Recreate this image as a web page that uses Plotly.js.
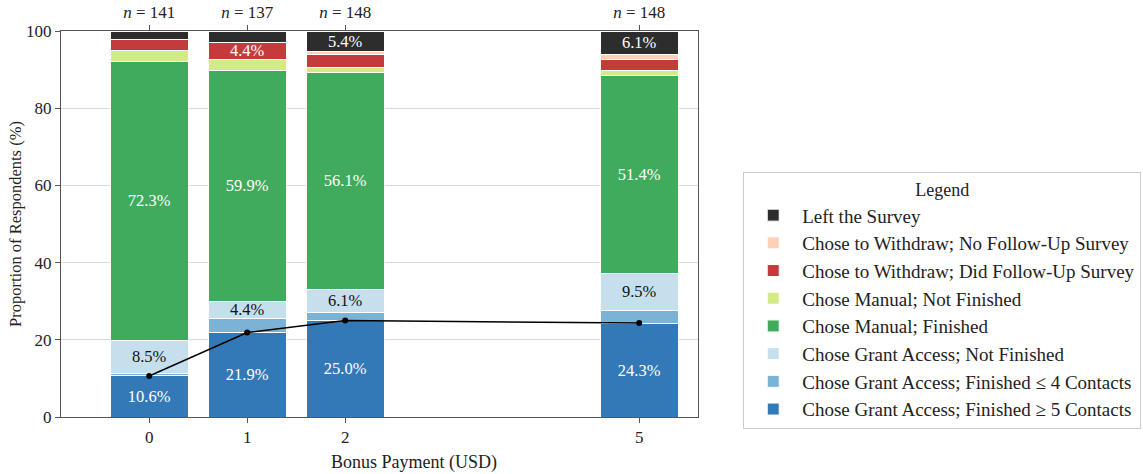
<!DOCTYPE html>
<html>
<head>
<meta charset="utf-8">
<script src="https://cdn.plot.ly/plotly-3.0.1.min.js"></script>
<style>html,body{margin:0;padding:0;background:#fff}</style>
</head>
<body>
<div id="chart" style="width:1143px;height:474px"></div>
<script>
// Bonus payment levels (USD) and sample sizes
const bonus = [0, 1, 2, 5];
const nResp = [141, 137, 148, 148];

// Respondent counts per outcome (bottom to top of each stack)
const grantFin5 = [15, 30, 37, 36];
const grantFin4 = [1, 5, 3, 5];
const grantNotFin = [12, 6, 9, 14];
const manualFin = [102, 82, 83, 76];
const manualNotFin = [4, 4, 2, 2];
const withdrawFollow = [4, 6, 5, 4];
const withdrawNoFollow = [0, 0, 1, 2];
const leftSurvey = [3, 4, 8, 9];

const seriesNames = [
  "Chose Grant Access; Finished ≥ 5 Contacts",
  "Chose Grant Access; Finished ≤ 4 Contacts",
  "Chose Grant Access; Not Finished",
  "Chose Manual; Finished",
  "Chose Manual; Not Finished",
  "Chose to Withdraw; Did Follow-Up Survey",
  "Chose to Withdraw; No Follow-Up Survey",
  "Left the Survey"
];
const seriesCounts = [grantFin5, grantFin4, grantNotFin, manualFin, manualNotFin, withdrawFollow, withdrawNoFollow, leftSurvey];
const seriesColors = ["#3379b7", "#7ab3d6", "#c6dfec", "#41ab5d", "#d4ea86", "#c43b3e", "#fdd0b8", "#2d2d2d"];
const textColors = ["#ffffff", "#ffffff", "#111111", "#ffffff", "#111111", "#ffffff", "#111111", "#ffffff"];

const FONT = "Liberation Serif, DejaVu Serif, serif";
const traces = [];
seriesCounts.forEach((counts, i) => {
  const pct = counts.map((c, j) => c / nResp[j] * 100);
  traces.push({
    type: "bar",
    name: seriesNames[i],
    x: bonus,
    y: pct,
    width: 0.8,
    marker: {color: seriesColors[i], line: {color: "#ffffff", width: 1}},
    text: pct.map(v => v >= 4 ? v.toFixed(1) + "%" : ""),
    textposition: "inside",
    insidetextanchor: "middle",
    textangle: 0,
    constraintext: "none",
    textfont: {family: FONT, size: 16.5, color: textColors[i]},
    hoverinfo: "skip"
  });
});

// line through share finishing with >= 5 contacts
traces.push({
  type: "scatter",
  mode: "lines+markers",
  x: bonus,
  y: grantFin5.map((c, j) => c / nResp[j] * 100),
  line: {color: "#000000", width: 1.5},
  marker: {color: "#000000", size: 6},
  showlegend: false,
  hoverinfo: "skip"
});
// dummy trace for top axis
traces.push({type: "scatter", mode: "markers", x: [0], y: [null], xaxis: "x2", showlegend: false, hoverinfo: "skip"});

const layout = {
  width: 1143, height: 474,
  margin: {l: 61, r: 445, t: 31, b: 57, autoexpand: false},
  barmode: "stack",
  paper_bgcolor: "#ffffff",
  plot_bgcolor: "#ffffff",
  font: {family: FONT, size: 17, color: "#222"},
  xaxis: {
    range: [-0.9, 5.6],
    tickvals: bonus,
    ticktext: bonus.map(String),
    ticks: "outside", ticklen: 5, tickcolor: "#555",
    showgrid: false, zeroline: false,
    showline: true, linecolor: "#555", linewidth: 1, mirror: true,
    tickfont: {size: 17}
  },
  xaxis2: {
    overlaying: "x", side: "top", anchor: "y",
    range: [-0.9, 5.6],
    tickvals: bonus,
    ticktext: nResp.map(n => "<i>n</i> = " + n),
    ticks: "outside", ticklen: 5, tickcolor: "#555",
    showgrid: false, zeroline: false, showline: false,
    tickfont: {size: 17}
  },
  yaxis: {
    range: [0, 100],
    tickvals: [0, 20, 40, 60, 80, 100],
    ticks: "outside", ticklen: 5, tickcolor: "#555",
    showgrid: true, gridcolor: "#d9d9d9", gridwidth: 1,
    zeroline: false,
    showline: true, linecolor: "#555", linewidth: 1, mirror: true,
    tickfont: {size: 17},
    title: {text: "Proportion of Respondents (%)", font: {size: 16.5}, standoff: 0}
  },
  annotations: [{
    text: "Bonus Payment (USD)",
    xref: "paper", yref: "paper",
    x: 0.554, y: -0.1166, xanchor: "center", yanchor: "middle",
    showarrow: false,
    font: {family: FONT, size: 18, color: "#222"}
  }],
  legend: {
    x: 1.071, xanchor: "left",
    y: 0.635, yanchor: "top",
    traceorder: "reversed",
    bordercolor: "#cccccc", borderwidth: 1,
    bgcolor: "#ffffff",
    font: {family: FONT, size: 19, color: "#222"},
    title: {text: "Legend", side: "top center", font: {size: 18}},
    itemwidth: 48
  },
  showlegend: true
};

Plotly.newPlot("chart", traces, layout, {displayModeBar: false, staticPlot: true});
</script>
</body>
</html>
